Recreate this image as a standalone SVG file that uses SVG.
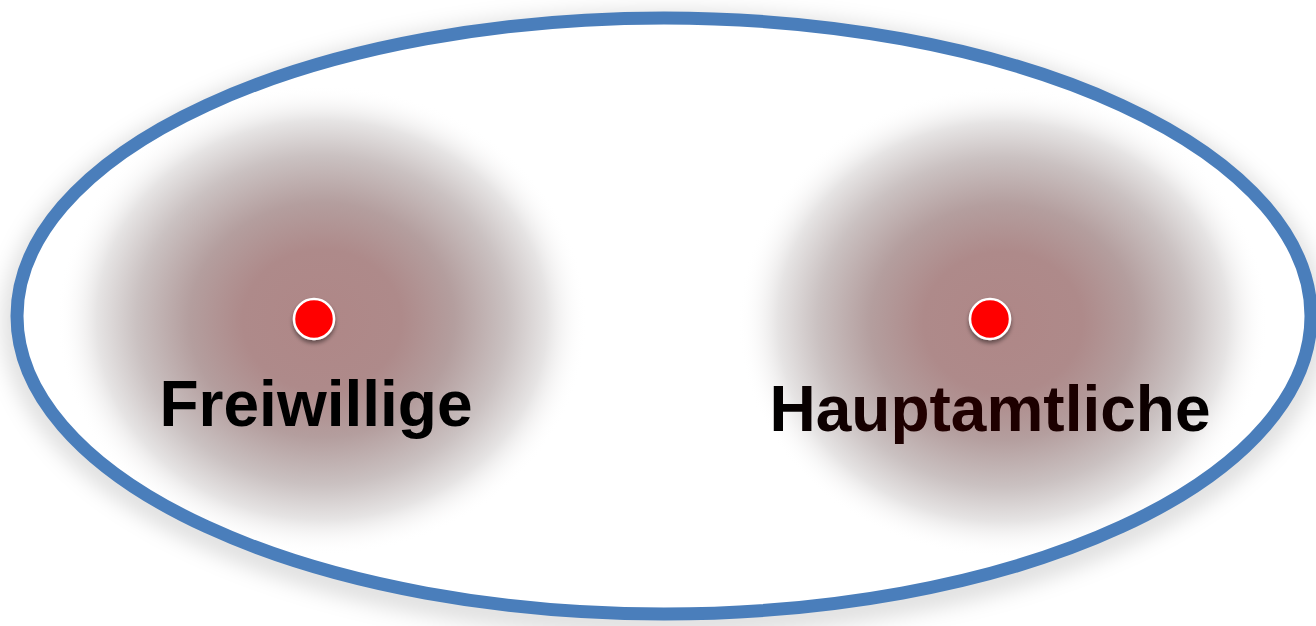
<svg xmlns="http://www.w3.org/2000/svg" width="1316" height="626" viewBox="0 0 1316 626">
<defs>
<radialGradient id="blob" cx="0.5" cy="0.5" r="0.5">
<stop offset="0" stop-color="#af8787"/>
<stop offset="0.3" stop-color="#ae8a8a"/>
<stop offset="0.5" stop-color="#b49e9e"/>
<stop offset="0.7" stop-color="#cac1c1"/>
<stop offset="0.85" stop-color="#e6e4e4"/>
<stop offset="1" stop-color="#ffffff" stop-opacity="0"/>
</radialGradient>
<linearGradient id="txt" x1="0" y1="0" x2="1" y2="0">
<stop offset="0" stop-color="#000"/>
<stop offset="0.35" stop-color="#220000"/>
<stop offset="0.7" stop-color="#1a0000"/>
<stop offset="1" stop-color="#000"/>
</linearGradient>
<filter id="sh" x="-10%" y="-10%" width="120%" height="130%">
<feGaussianBlur stdDeviation="10"/>
</filter>
<filter id="dsh" x="-50%" y="-50%" width="200%" height="200%">
<feGaussianBlur in="SourceAlpha" stdDeviation="2"/>
<feOffset dy="3"/>
<feComponentTransfer><feFuncA type="linear" slope="0.45"/></feComponentTransfer>
<feMerge><feMergeNode/><feMergeNode in="SourceGraphic"/></feMerge>
</filter>
</defs>
<style>
.lbl{font-family:"Liberation Sans",Arial,sans-serif;font-weight:bold;font-size:64px;text-anchor:middle}
.dot{fill:#ff0000;stroke:#ffffff;stroke-width:2.5}
</style>
<rect width="1316" height="626" fill="#ffffff"/>
<g id="boundary">
<ellipse cx="664" cy="323" rx="647" ry="298" fill="none" stroke="#000" stroke-opacity="0.12" stroke-width="30" filter="url(#sh)"/>
<ellipse cx="664" cy="316" rx="647" ry="298" fill="#ffffff"/>
</g>
<g id="freiwillige">
<ellipse cx="322" cy="320" rx="265" ry="235" fill="url(#blob)"/>
<circle class="dot" cx="314" cy="319" r="20" filter="url(#dsh)"/>
<text class="lbl" x="316" y="426">Freiwillige</text>
</g>
<g id="hauptamtliche">
<ellipse cx="1003" cy="322" rx="265" ry="235" fill="url(#blob)"/>
<circle class="dot" cx="990" cy="319" r="20" filter="url(#dsh)"/>
<text class="lbl" x="990" y="431" fill="url(#txt)">Hauptamtliche</text>
</g>
<g id="outline">
<ellipse cx="664" cy="316" rx="647" ry="298" fill="none" stroke="#4a7ebb" stroke-width="13"/>
</g>
</svg>
